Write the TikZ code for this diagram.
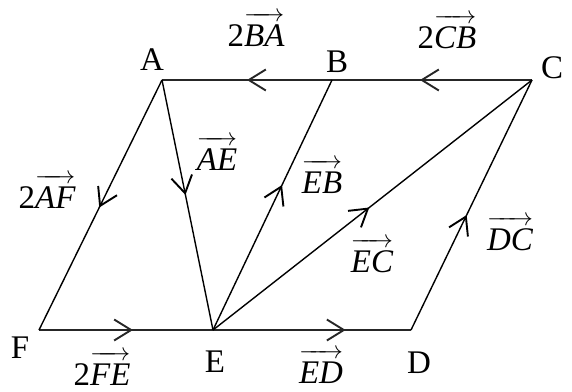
\documentclass[tikz,border=0pt]{standalone}
\usepackage{fontspec}
\setmainfont{Liberation Serif}
\usetikzlibrary{arrows.meta,decorations.markings}
\newcommand\myvec[1]{$\overrightarrow{\mbox{\rule{0pt}{0.78em}\itshape #1}}$}
\tikzset{
  midarrow/.style={postaction={decorate},decoration={markings,
    mark=at position #1 with {\arrow{Straight Barb[length=17pt,width=21pt,line width=1.9pt]}}}},
  edgeline/.style={draw=black,line width=1.4pt},
  hline/.style={draw=black!85,line width=2.2pt},
  lbl/.style={anchor=base,inner sep=0pt,font=\fontsize{33}{38}\selectfont},
}
\begin{document}
\begin{tikzpicture}[x=1pt,y=-1pt]
  \useasboundingbox (0,0) rectangle (572,391);
  % vertices
  \coordinate (A) at (162,80);
  \coordinate (B) at (332,80);
  \coordinate (C) at (532,80);
  \coordinate (F) at (39,330);
  \coordinate (E) at (213,330);
  \coordinate (D) at (411,330);
  % connectors
  \path[hline,midarrow=0.56] (C) -- (B);
  \path[hline,midarrow=0.50] (B) -- (A);
  \path[hline,midarrow=0.54] (F) -- (E);
  \path[hline,midarrow=0.67] (E) -- (D);
  \path[edgeline,midarrow=0.51] (A) -- (F);
  \path[edgeline,midarrow=0.46] (A) -- (E);
  \path[edgeline,midarrow=0.58] (E) -- (B);
  \path[edgeline,midarrow=0.49] (E) -- (C);
  \path[edgeline,midarrow=0.46] (D) -- (C);
  % vertex labels
  \node[lbl] (lA) at (152,70) {A};
  \node[lbl] (lB) at (337,72) {B};
  \node[lbl] (lC) at (552,78) {C};
  \node[lbl] (lF) at (20,358) {F};
  \node[lbl] (lE) at (215,372) {E};
  \node[lbl] (lD) at (419,373) {D};
  % vector labels
  \node[lbl] (vBA) at (256,46) {2\myvec{BA}};
  \node[lbl] (vCB) at (447,48) {2\myvec{CB}};
  \node[lbl] (vAF) at (47,208) {2\myvec{AF}};
  \node[lbl] (vAE) at (217,170) {\myvec{AE}};
  \node[lbl] (vEB) at (322,193) {\myvec{EB}};
  \node[lbl] (vEC) at (372,272) {\myvec{EC}};
  \node[lbl] (vDC) at (510,250) {\myvec{DC}};
  \node[lbl] (vFE) at (102,385) {2\myvec{FE}};
  \node[lbl] (vED) at (321,383) {\myvec{ED}};
\end{tikzpicture}
\end{document}
